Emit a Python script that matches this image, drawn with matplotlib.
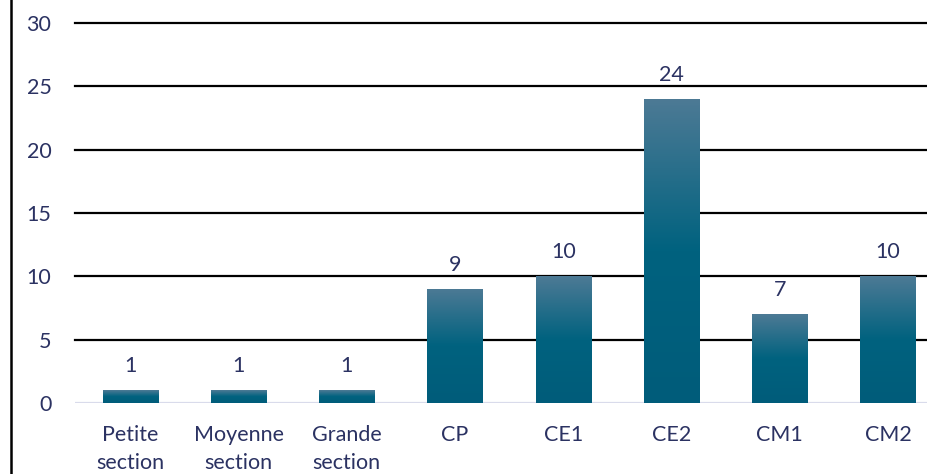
import matplotlib
matplotlib.use("Agg")
import matplotlib.pyplot as plt
import numpy as np
from matplotlib.colors import LinearSegmentedColormap
from matplotlib.lines import Line2D

categories = ["Petite\nsection", "Moyenne\nsection", "Grande\nsection", "CP", "CE1", "CE2", "CM1", "CM2"]
values = [1, 1, 1, 9, 10, 24, 7, 10]
yticks = [0, 5, 10, 15, 20, 25, 30]

text_color = "#2b3262"
plt.rcParams['font.family'] = ['Lato', 'DejaVu Sans']

fig = plt.figure(figsize=(9.27, 4.74), dpi=100)
ax = fig.add_axes([0.081, 0.1498, 0.919, 0.8017])

x = np.arange(len(categories))
bars = ax.bar(x, values, width=0.51, color="#00627f", zorder=3)

cmap = LinearSegmentedColormap.from_list("g", [(0, "#005c7a"), (0.5, "#00627f"), (1.0, "#4d7a95")])
grad = np.linspace(0, 1, 256).reshape(-1, 1)
for b in bars:
    x0, y0 = b.get_x(), b.get_y()
    w, h = b.get_width(), b.get_height()
    im = ax.imshow(grad, cmap=cmap, origin="lower", aspect="auto",
                   extent=[x0, x0 + w, y0, y0 + h], zorder=4, interpolation="bilinear")
    im.set_clip_path(b)

for xi, v in zip(x, values):
    ax.annotate(str(v), (xi, v), xytext=(0, 10), textcoords="offset points",
                ha="center", va="bottom", fontsize=15.5, color=text_color, zorder=5)

ax.set_xlim(-0.51, 7.36)
ax.set_ylim(0, 30)
ax.set_yticks(yticks)
ax.set_xticks(x)
ax.set_xticklabels(categories, linespacing=1.5)
for g in yticks[1:]:
    ax.axhline(g, color="black", linewidth=1.6, zorder=1, clip_on=False)
ax.axhline(0, color="#d9dbeb", linewidth=1.6, zorder=2)

for s in ax.spines.values():
    s.set_visible(False)
ax.tick_params(axis="both", length=0, labelsize=15.5, labelcolor=text_color)
ax.tick_params(axis="y", pad=17)
ax.tick_params(axis="x", pad=16)

fig.add_artist(Line2D([11/927, 11/927], [0, 1], transform=fig.transFigure, color="black", linewidth=1.8))

fig.savefig("out.png", dpi=100)
